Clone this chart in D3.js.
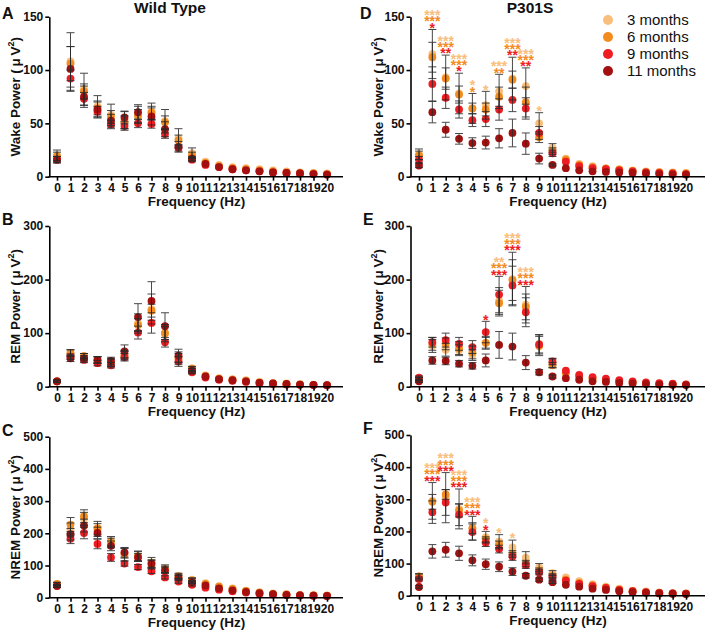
<!DOCTYPE html>
<html><head><meta charset="utf-8">
<script src="https://cdn.jsdelivr.net/npm/d3@7"></script>
<style>body{margin:0;background:#fff} svg{display:block;font-family:"Liberation Sans",Arial,sans-serif}</style>
</head><body><svg width="709" height="631"></svg>
<script>
const FONT = '"Liberation Sans", Arial, sans-serif';
const freqs = [0,1,2,3,4,5,6,7,8,9,10,11,12,13,14,15,16,17,18,19,20];
const months = ["3 months","6 months","9 months","11 months"];
const colors = ["#F8BE7C","#F28C1F","#EE1D23","#A3100F"];
const wakeTicks = [0,50,100,150];
const remTicks = [0,100,200,300];
const nremTicks = [0,100,200,300,400,500];
const Z = 0;

// Wild type, Wake
const wakeWT_mean = [
 [20,108,82,66,58,53,58,61,52,36,22,14,11,9,8,7,6,5,4,3.5,3],
 [19,106,80,64,56,51,57,60,51,34,20,13,10,8,7,6,5,4,3.5,3,2.5],
 [16,92,73,61,49,47.5,50,49.5,40,27,16,11,9,7,6,5,4,3.5,3,2.5,2],
 [16,101,75,63,52.5,55.5,60.5,56.5,44.5,28,17,12,9,7,6,5,4,3.5,3,2.5,2]
];
const wakeWT_err = [
 [5,27,15,10,10,8,8,8,11,9,5,Z,Z,Z,Z,Z,Z,Z,Z,Z,Z],
 [4,16,7,6,6,6,6,6,6,5,3,Z,Z,Z,Z,Z,Z,Z,Z,Z,Z],
 [3,8,6,5,4,4,4,4,4,3,2,Z,Z,Z,Z,Z,Z,Z,Z,Z,Z],
 [3,21,10,8,6,6,7,8,7,5,2,Z,Z,Z,Z,Z,Z,Z,Z,Z,Z]
];
// P301S, Wake
const wakeTg_mean = [
 [21,115,93,78,64,67,80,92,85,50,27,17,12,10,8,7,6,5,4.5,4,3.5],
 [20,112,92,77,64,63,75,91,70,37,24,16,11,9,7.5,6.5,5.5,4.5,4,3.5,3],
 [16,87,74,63,53,54,63,72,64,41,22,14,10,8,7,6,5,4,3.5,3,2.5],
 [10.5,60.5,44,35.5,31.5,32,36,41,31,17,11,8,6,5,4.5,4,3.5,3,2.5,2,2]
];
const wakeTg_err = [
 [5,23,21,19,14,13,16,20,17,10,4,Z,Z,Z,Z,Z,Z,Z,Z,Z,Z],
 [4,14,10,8,5,6,9,8,14,5,3,Z,Z,Z,Z,Z,Z,Z,Z,Z,Z],
 [3,16,10,8,6,7,10,11,10,6,3,Z,Z,Z,Z,Z,Z,Z,Z,Z,Z],
 [2,10,7,5,5,6,9,13,10,5,1,Z,Z,Z,Z,Z,Z,Z,Z,Z,Z]
];
const wakeTg_stars = [
 [1,"***","***","*"],[2,"***","***","**"],[3,"***","***","*"],[4,"*","*",""],
 [5,"*","",""],[6,"***","**",""],[7,"***","***","**"],[8,"***","***","**"],[9,"*","",""]
];
// Wild type, REM
const remWT_mean = [
 [10,63,57,50,45,60,118,145,100,55,33,21,16,14,12,9,7,6,5,4,3.5],
 [10,63,57,50,45,58,115,142,100,52,34,20,15,13,11,8,6,5,4,3.5,3],
 [10,56,50,44,40,55,101,119,83,47,27,17,13,11,9,7,5,4,3.5,3,2.5],
 [10,53,53,50,48,66,130,160,113,58,30,19,14,12,10,7,6,5,4,3.5,3]
];
const remWT_err = [
 [2,6,5,6,7,8,18,28,16,10,4,Z,Z,Z,Z,Z,Z,Z,Z,Z,Z],
 [2,6,5,6,7,8,12,12,12,10,4,Z,Z,Z,Z,Z,Z,Z,Z,Z,Z],
 [2,5,5,5,5,7,12,19,9,9,3,Z,Z,Z,Z,Z,Z,Z,Z,Z,Z],
 [2,6,5,6,7,12,25,36,25,12,4,Z,Z,Z,Z,Z,Z,Z,Z,Z,Z]
];
// P301S, REM
const remTg_mean = [
 [15,76,69,68,59,82,160,201,153,80,44,27,20,16,13,11,9,7,6,5,4],
 [14,80,80,72,64,82,156,199,149,76,40,25,19,15,12,10,8,6,5,4,3.5],
 [17,83,87,80,74,102,172,189,139,79,47,30,22,18,15,12,10,8,6.5,5.5,4.5],
 [10,49,48,43,39,49,78,75,45,27,19,16,13,10,9,7,6,5,4,3.5,3]
];
const remTg_err = [
 [3,12,12,10,10,12,25,50,34,17,8,Z,Z,Z,Z,Z,Z,Z,Z,Z,Z],
 [3,12,11,12,12,10,24,38,24,18,5,Z,Z,Z,Z,Z,Z,Z,Z,Z,Z],
 [3,9,13,12,12,20,34,36,27,18,6,Z,Z,Z,Z,Z,Z,Z,Z,Z,Z],
 [2,7,7,6,6,12,25,25,13,5,3,Z,Z,Z,Z,Z,Z,Z,Z,Z,Z]
];
const remTg_stars = [
 [5,"","","*"],[6,"**","***","***"],[7,"***","***","***"],[8,"***","***","***"]
];
// Wild type, NREM
const nremWT_mean = [
 [42,212,245,210,170,138,130,110,90,68,56,45,36,29,22,17,13,11,9,8,7],
 [43,227,253,216,175,134,128,103,88,66,54,43,34,27,21,16,12,10,8,7,6],
 [36,183,201,167,125,106,95,82,63,50,40,31,25,20,16,12,10,8,7,6,5],
 [37,197,224,201,161,141,125,106,85,62,48,38,29,23,18,14,11,9,7.5,6.5,5.5]
];
const nremWT_err = [
 [5,20,20,20,15,15,15,15,12,8,6,Z,Z,Z,Z,Z,Z,Z,Z,Z,Z],
 [5,22,20,21,15,20,15,12,10,7,6,Z,Z,Z,Z,Z,Z,Z,Z,Z,Z],
 [4,15,18,15,12,8,8,7,5,5,4,Z,Z,Z,Z,Z,Z,Z,Z,Z,Z],
 [4,18,20,18,15,15,12,12,10,7,5,Z,Z,Z,Z,Z,Z,Z,Z,Z,Z]
];
// P301S, NREM
const nremTg_mean = [
 [60,295,305,270,210,182,168,150,118,88,70,57,45,36,28,22,16,13,10,8,7],
 [60,292,315,265,210,175,160,130,100,78,62,50,40,32,25,19,14,11,9,7,6],
 [52,260,290,252,198,165,145,122,95,73,58,47,37,30,24,18,14,11,9,7,6],
 [27,138,143,132,110,98,90,75,62,50,42,34,28,22,18,14,11,9,7,6,5]
];
const nremTg_err = [
 [8,57,78,62,37,18,22,23,19,12,8,Z,Z,Z,Z,Z,Z,Z,Z,Z,Z],
 [8,23,15,20,17,8,10,10,10,8,6,Z,Z,Z,Z,Z,Z,Z,Z,Z,Z],
 [6,35,40,34,25,12,12,12,10,8,6,Z,Z,Z,Z,Z,Z,Z,Z,Z,Z],
 [4,21,23,22,17,16,15,12,7,5,4,Z,Z,Z,Z,Z,Z,Z,Z,Z,Z]
];
const nremTg_stars = [
 [1,"***","***","***"],[2,"***","***","***"],[3,"***","***","***"],[4,"***","***","***"],
 [5,"*","","*"],[6,"*","",""],[7,"*","",""]
];

const svg = d3.select("svg");
const cols = [
  {axisX:49.3, x0:57, x20:327, axisEnd:343, ylabX:15.5, freqX:196.5},
  {axisX:410.5, x0:419, x20:686, axisEnd:705, ylabX:378.5, freqX:558}
];
const panels = [
 {letter:"A", lx:2, ly:19, col:0, top:16.7, bottom:176.7, ticks:wakeTicks, label:"Wake", mean:wakeWT_mean, err:wakeWT_err, stars:[]},
 {letter:"B", lx:2, ly:225, col:0, top:226, bottom:386.7, ticks:remTicks, label:"REM", mean:remWT_mean, err:remWT_err, stars:[]},
 {letter:"C", lx:2, ly:436, col:0, top:436.7, bottom:597.7, ticks:nremTicks, label:"NREM", mean:nremWT_mean, err:nremWT_err, stars:[]},
 {letter:"D", lx:360, ly:19, col:1, top:16.7, bottom:176.7, ticks:wakeTicks, label:"Wake", mean:wakeTg_mean, err:wakeTg_err, stars:wakeTg_stars},
 {letter:"E", lx:363, ly:225, col:1, top:226, bottom:386.7, ticks:remTicks, label:"REM", mean:remTg_mean, err:remTg_err, stars:remTg_stars},
 {letter:"F", lx:363, ly:434, col:1, top:435, bottom:595.7, ticks:nremTicks, label:"NREM", mean:nremTg_mean, err:nremTg_err, stars:nremTg_stars}
];

panels.forEach(p => {
  const c = cols[p.col];
  const x = d3.scaleLinear().domain([0,20]).range([c.x0, c.x20]);
  const y = d3.scaleLinear().domain([0, d3.max(p.ticks)]).range([p.bottom, p.top]);
  const g = svg.append("g");

  // dots
  p.mean.forEach((arr, s) => {
    g.append("g").selectAll("circle").data(arr).join("circle")
      .attr("cx", (d,i) => x(freqs[i])).attr("cy", d => y(d))
      .attr("r", 3.9).attr("fill", colors[s]);
  });
  // error bars
  p.mean.forEach((arr, s) => {
    const data = freqs.map((f,i) => ({f, m:arr[i], e:p.err[s][i]})).filter(d => d.e > 0);
    const eg = g.append("g").attr("stroke","#2a2a2a").attr("stroke-width",1).attr("opacity",0.85);
    data.forEach(d => {
      const xx = x(d.f), y1 = y(d.m + d.e), y2 = y(Math.max(0, d.m - d.e));
      eg.append("line").attr("x1",xx).attr("x2",xx).attr("y1",y1).attr("y2",y2);
      eg.append("line").attr("x1",xx-4).attr("x2",xx+4).attr("y1",y1).attr("y2",y1);
      eg.append("line").attr("x1",xx-4).attr("x2",xx+4).attr("y1",y2).attr("y2",y2);
    });
  });
  // significance stars: one text per frequency, one line (tspan) per group, top-down
  p.stars.forEach(row => {
    const f = row[0], marks = row.slice(1);
    const topVal = d3.max([0,1,2,3], s => p.mean[s][f] + p.err[s][f]);
    const present = [0,1,2].filter(s => marks[s]);
    const n = present.length;
    const bottomCenter = y(topVal) - 4.5;
    const firstCenter = bottomCenter - (n-1)*6.3;
    const st = g.append("text").attr("text-anchor","middle").attr("font-size",14).attr("font-weight","bold");
    present.forEach((s, k) => {
      st.append("tspan").attr("x", x(f)).attr("y", firstCenter + k*6.3 + 7.7)
        .attr("fill", colors[s]).text(marks[s]);
    });
  });

  // y axis
  const ya = g.append("g").attr("transform",`translate(${c.axisX},0)`)
    .call(d3.axisLeft(y).tickValues(p.ticks).tickSize(4).tickSizeOuter(0).tickPadding(2));
  ya.attr("font-family", FONT).attr("font-size",12).attr("font-weight","bold");
  ya.select(".domain").attr("stroke","#000").attr("stroke-width",1.6);
  ya.selectAll(".tick line").attr("stroke","#000").attr("stroke-width",1.6);
  ya.selectAll(".tick text").attr("fill","#111");

  // x axis
  const xa = g.append("g").attr("transform",`translate(0,${p.bottom})`)
    .call(d3.axisBottom(x).tickValues(freqs).tickSize(4).tickSizeOuter(0).tickPadding(3));
  xa.attr("font-family", FONT).attr("font-size",12).attr("font-weight","bold");
  xa.select(".domain").remove();
  xa.selectAll(".tick line").attr("stroke","#000").attr("stroke-width",1.6);
  xa.selectAll(".tick text").attr("fill","#111");
  g.append("line").attr("x1",c.axisX - 0.8).attr("x2",c.axisEnd).attr("y1",p.bottom).attr("y2",p.bottom)
    .attr("stroke","#000").attr("stroke-width",1.6);

  // axis labels
  g.append("text").attr("x", c.freqX).attr("y", p.bottom + 29.5).attr("text-anchor","middle")
    .attr("font-size",13.5).attr("font-weight","bold").attr("fill","#111").text("Frequency (Hz)");
  const t = g.append("text").attr("transform",`translate(${c.ylabX},${(p.top+p.bottom)/2}) rotate(-90)`)
    .attr("text-anchor","middle").attr("font-size",13.5).attr("font-weight","bold").attr("fill","#111");
  t.append("tspan").attr("dy",4.7).text(`${p.label} Power (\u2009\u03bc\u2009V`);
  t.append("tspan").attr("font-size",9).attr("dy",-6).text("2");
  t.append("tspan").attr("dy",6).text(")");

  // panel letter
  svg.append("text").attr("x",p.lx).attr("y",p.ly).attr("font-size",16).attr("font-weight","bold")
    .attr("fill","#111").text(p.letter);
});

// titles
svg.append("text").attr("x",170).attr("y",13).attr("text-anchor","middle").attr("font-size",15.5)
  .attr("font-weight","bold").attr("fill","#111").text("Wild Type");
svg.append("text").attr("x",530).attr("y",13).attr("text-anchor","middle").attr("font-size",15.5)
  .attr("font-weight","bold").attr("fill","#111").text("P301S");

// legend
const lg = svg.append("g");
months.forEach((m, i) => {
  const cy = 20 + i*17;
  lg.append("circle").attr("cx",608).attr("cy",cy).attr("r",5).attr("fill",colors[i]);
  lg.append("text").attr("x",627).attr("y",cy).attr("dy","0.35em").attr("font-size",15)
    .attr("fill","#111").text(m);
});
</script></body></html>
